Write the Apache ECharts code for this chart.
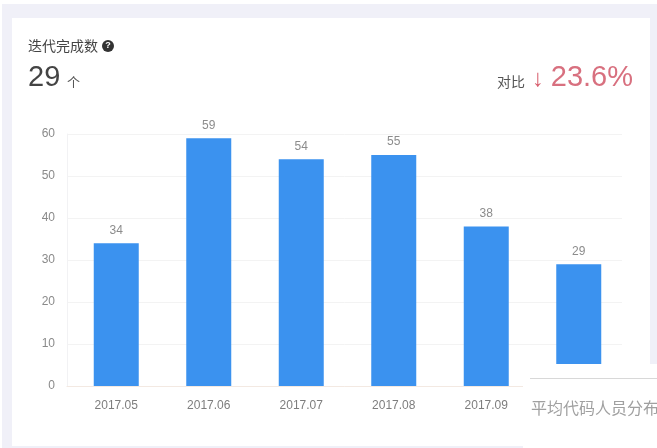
<!DOCTYPE html>
<html>
<head>
<meta charset="utf-8">
<style>
  html, body { margin: 0; padding: 0; background: #fff; }
  #chart { width: 657px; height: 448px; }
</style>
<script src="https://cdn.jsdelivr.net/npm/echarts@6/dist/echarts.min.js"></script>
</head>
<body>
<div id="chart"></div>
<script>
// Completed iterations per month
const categories = ['2017.05', '2017.06', '2017.07', '2017.08', '2017.09', '2017.10'];
const iterations = [34, 59, 54, 55, 38, 29];
const yTicks = { min: 0, max: 60, interval: 10 };

const cjkFont = '"Noto Sans CJK SC", sans-serif';
const latinFont = '"Liberation Sans", sans-serif';
const chart = echarts.init(document.getElementById('chart'), null, { renderer: 'canvas' });

chart.setOption({
  animation: false,
  backgroundColor: '#ffffff',
  textStyle: { fontFamily: latinFont },
  // The bars sit in a grid nudged slightly right of the ruled background
  grid: [
    { left: 67, right: 35, top: 134, bottom: 62 },
    { left: 70, right: 32, top: 134, bottom: 62 }
  ],
  xAxis: [
    {
      type: 'category',
      gridIndex: 0,
      data: categories,
      axisTick: { show: false },
      axisLabel: { show: false },
      axisLine: { lineStyle: { color: '#f3e9e2', width: 1 } }
    },
    {
      type: 'category',
      gridIndex: 1,
      data: categories,
      axisTick: { show: false },
      axisLine: { show: false },
      axisLabel: { color: '#7d7d7d', fontSize: 12, margin: 14, fontFamily: latinFont, interval: 0 }
    }
  ],
  yAxis: [
    {
      type: 'value',
      gridIndex: 0,
      min: yTicks.min,
      max: yTicks.max,
      interval: yTicks.interval,
      axisTick: { show: false },
      axisLine: { show: true, lineStyle: { color: '#f2f2f4', width: 1 } },
      axisLabel: { color: '#8a8a8a', fontSize: 12, margin: 12, fontFamily: latinFont },
      splitLine: { lineStyle: { color: '#f3f3f3', width: 1 } }
    },
    {
      type: 'value',
      gridIndex: 1,
      min: yTicks.min,
      max: yTicks.max,
      interval: yTicks.interval,
      show: false
    }
  ],
  series: [{
    type: 'bar',
    xAxisIndex: 1,
    yAxisIndex: 1,
    data: iterations,
    barWidth: 45,
    z: 2,
    itemStyle: { color: '#3b92ef' },
    label: {
      show: true,
      position: 'top',
      distance: 7,
      color: '#8c8c8c',
      fontSize: 12,
      fontFamily: latinFont
    }
  }],
  graphic: [
    // Page frame around the card
    { type: 'rect', z: -10, silent: true, shape: { x: 2, y: 4, width: 655, height: 14 }, style: { fill: '#f0f0f8' } },
    { type: 'rect', z: -10, silent: true, shape: { x: 2, y: 4, width: 10, height: 444 }, style: { fill: '#f0f0f8' } },
    { type: 'rect', z: -10, silent: true, shape: { x: 650, y: 4, width: 7, height: 444 }, style: { fill: '#f0f0f8' } },
    { type: 'rect', z: -10, silent: true, shape: { x: 2, y: 446, width: 655, height: 2 }, style: { fill: '#f0f0f8' } },

    // Header: metric title, help icon and current value
    { type: 'text', z: 10, style: { x: 28, y: 46, text: '迭代完成数', fill: '#444444', fontSize: 14, fontFamily: cjkFont, verticalAlign: 'middle' } },
    { type: 'circle', z: 10, shape: { cx: 108, cy: 46, r: 6 }, style: { fill: '#333333' } },
    { type: 'text', z: 11, style: { x: 108, y: 46, text: '?', fill: '#ffffff', fontSize: 9, fontWeight: 'bold', fontFamily: latinFont, align: 'center', verticalAlign: 'middle' } },
    { type: 'text', z: 10, style: { x: 28, y: 78, text: '29', fill: '#444444', fontSize: 29, fontFamily: latinFont, verticalAlign: 'middle' } },
    { type: 'text', z: 10, style: { x: 67, y: 82, text: '个', fill: '#555555', fontSize: 13, fontFamily: cjkFont, verticalAlign: 'middle' } },

    // Header: comparison with the previous period
    { type: 'text', z: 10, style: { x: 497, y: 82, text: '对比', fill: '#555555', fontSize: 14, fontFamily: cjkFont, verticalAlign: 'middle' } },
    { type: 'text', z: 10, style: { x: 538, y: 79, text: '↓', fill: '#d8606f', fontSize: 24, fontFamily: latinFont, align: 'center', verticalAlign: 'middle' } },
    { type: 'text', z: 10, style: { x: 633, y: 78, text: '23.6%', fill: '#d8707f', fontSize: 29, fontFamily: latinFont, align: 'right', verticalAlign: 'middle' } },

    // Next card sliding over the lower right corner
    { type: 'rect', z: 20, silent: true, shape: { x: 523, y: 364, width: 134, height: 84 }, style: { fill: '#ffffff' } },
    { type: 'rect', z: 21, silent: true, shape: { x: 530, y: 378, width: 127, height: 1 }, style: { fill: '#d8d8d8' } },
    { type: 'text', z: 21, style: { x: 531, y: 408, text: '平均代码人员分布', fill: '#a0a0a0', fontSize: 16, fontFamily: cjkFont, verticalAlign: 'middle' } }
  ]
});
</script>
</body>
</html>
